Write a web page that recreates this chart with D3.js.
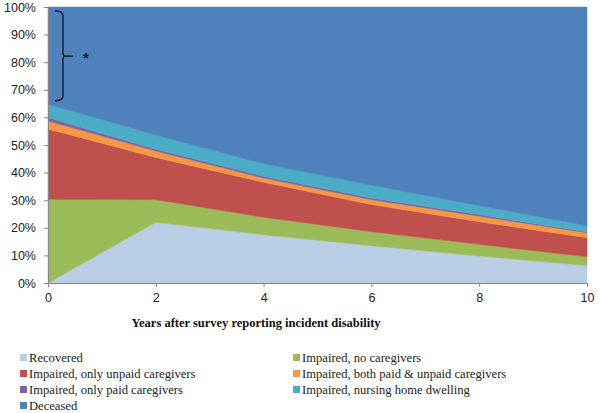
<!DOCTYPE html>
<html><head><meta charset="utf-8">
<script src="https://cdn.jsdelivr.net/npm/d3@7"></script>
<style>body{margin:0;background:#fff}svg{display:block}</style>
</head><body>
<svg id="c" width="600" height="413"></svg>
<script>
const years = [0, 2, 4, 6, 8, 10];
const seriesNames = ["Recovered","Impaired, no caregivers","Impaired, only unpaid caregivers","Impaired, both paid & unpaid caregivers","Impaired, only paid caregivers","Impaired, nursing home dwelling","Deceased"];
const recovered   = [0, 22.0, 17.5, 13.5, 9.8, 6.3];
const noCare      = [30.3, 8.2, 6.3, 5.1, 4.2, 3.2];
const onlyUnpaid  = [25.5, 15.3, 12.7, 9.8, 8.2, 6.9];
const bothPaid    = [2.9, 2.3, 1.5, 1.8, 2.0, 1.8];
const onlyPaid    = [1.3, 0.7, 0.7, 0.6, 0.6, 0.3];
const nursing     = [4.7, 5.1, 4.5, 4.6, 3.2, 2.2];
const deceased    = [35.3, 46.4, 56.8, 64.6, 72.0, 79.3];
const colors = ["#B9CDE5","#9BBB59","#C0504D","#F79646","#8064A2","#4BACC6","#4F81BD"];
const xTicks = [0, 2, 4, 6, 8, 10];
const yTicks = [0,10,20,30,40,50,60,70,80,90,100];
const xTitle = "Years after survey reporting incident disability";
const bracket = {top: 98.6, bottom: 66, mid: 82.2};

const allSeries = [recovered, noCare, onlyUnpaid, bothPaid, onlyPaid, nursing, deceased];
const table = years.map((y,i)=>{const o={year:y}; seriesNames.forEach((n,k)=>o[n]=allSeries[k][i]); return o;});
const stack = d3.stack().keys(seriesNames)(table);

const svg = d3.select("#c");
const x = d3.scaleLinear().domain([0,10]).range([48,587]);
const y = d3.scaleLinear().domain([0,100]).range([283,7]);

const area = d3.area().x(d=>x(d.data.year)).y0(d=>y(d[0])).y1(d=>y(Math.min(100,d[1])));
svg.append("g").selectAll("path").data(stack).join("path")
  .attr("d", area).attr("fill",(d,i)=>colors[i]).attr("stroke",(d,i)=>colors[i]).attr("stroke-width",0.5);

// axes
const axisColor = "#868686";
const yAxis = svg.append("g").attr("transform","translate(48,0)")
  .call(d3.axisLeft(y).tickValues(yTicks).tickFormat(d=>d+"%").tickSizeOuter(0).tickSize(4).tickPadding(8));
const xAxis = svg.append("g").attr("transform","translate(0,283)")
  .call(d3.axisBottom(x).tickValues(xTicks).tickFormat(d3.format("d")).tickSizeOuter(0).tickSize(4).tickPadding(6));
[yAxis,xAxis].forEach(g=>{
  g.selectAll("path,line").attr("stroke",axisColor);
  g.selectAll("text").attr("fill","#222").style("font-family","'Liberation Sans', Arial, sans-serif").style("font-size","12.5px");
});

// x title
svg.append("text").attr("x",256).attr("y",327).attr("text-anchor","middle")
  .style("font-family","'Liberation Serif', 'DejaVu Serif', serif").style("font-weight","bold").style("font-size","12.5px")
  .attr("fill","#111").text(xTitle);

// bracket annotation
const bx = 63, yt = y(bracket.top), yb = y(bracket.bottom), ym = y(bracket.mid);
svg.append("path").attr("d",
  `M${bx-8},${yt} Q${bx},${yt} ${bx},${yt+5} L${bx},${ym-3} Q${bx},${ym} ${bx+3},${ym} L${bx+10},${ym} M${bx+3},${ym} Q${bx},${ym} ${bx},${ym+3} L${bx},${yb-5} Q${bx},${yb} ${bx-8},${yb}`)
  .attr("fill","none").attr("stroke","#111").attr("stroke-width",1.3);
svg.append("text").attr("x",86).attr("y",ym+7).attr("text-anchor","middle")
  .style("font-family","'Liberation Sans', Arial, sans-serif").style("font-weight","bold").style("font-size","15px").attr("fill","#111").text("*");

// legend
const legPos = [[20,358],[293,358],[20,374],[293,374],[20,390],[293,390],[20,406]];
const leg = svg.append("g").selectAll("g").data(seriesNames).join("g")
  .attr("transform",(d,i)=>`translate(${legPos[i][0]},${legPos[i][1]})`);
leg.append("rect").attr("x",0).attr("y",-4).attr("width",7).attr("height",7).attr("fill",(d,i)=>colors[i]);
leg.append("text").attr("x",9).attr("y",4)
  .style("font-family","'Liberation Serif', 'DejaVu Serif', serif").style("font-size","12.6px").attr("fill","#222").text(d=>d);
</script>
</body></html>
